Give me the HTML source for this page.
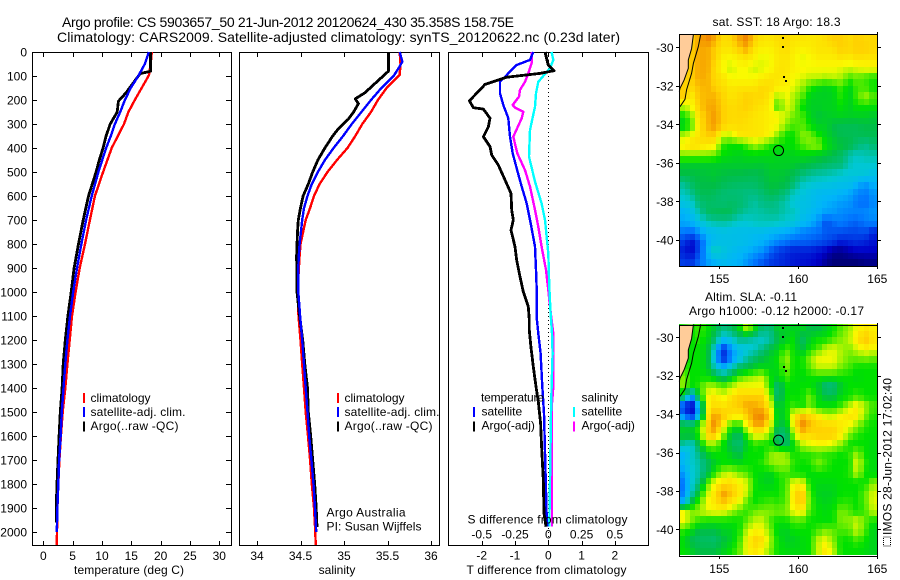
<!DOCTYPE html>
<html>
<head>
<meta charset="utf-8">
<title>Argo profile</title>
<style>
html,body{margin:0;padding:0;background:#fff;}
svg{display:block;}
text{font-family:"Liberation Sans",sans-serif;font-size:12px;fill:#000;}
.title{font-size:14px;}
</style>
</head>
<body>
<svg id="fig" xmlns="http://www.w3.org/2000/svg" width="900" height="580" viewBox="0 0 900 580">
<text class="title" x="62" y="27" textLength="452" lengthAdjust="spacing">Argo profile: CS 5903657_50 21-Jun-2012 20120624_430 35.358S 158.75E</text>
<text class="title" x="57" y="42" textLength="563" lengthAdjust="spacing">Climatology: CARS2009. Satellite-adjusted climatology: synTS_20120622.nc (0.23d later)</text>
<g id="plots"></g>
<g id="maps"></g>
<g id="overlay">
<text x="129" y="574" text-anchor="middle" textLength="110" lengthAdjust="spacing">temperature (deg C)</text>
<text x="337" y="574" text-anchor="middle">salinity</text>
<text x="546.5" y="574" text-anchor="middle" textLength="160" lengthAdjust="spacing">T difference from climatology</text>
<text x="547.5" y="523.5" text-anchor="middle" textLength="160" lengthAdjust="spacing">S difference from climatology</text>

<rect x="83" y="393" width="2" height="10" fill="#f00"/>
<text x="90.5" y="402">climatology</text>
<rect x="83" y="407" width="2" height="10" fill="#00f"/>
<text x="90.5" y="416" textLength="95" lengthAdjust="spacing">satellite-adj. clim.</text>
<rect x="83" y="421.5" width="2" height="10" fill="#000"/>
<text x="90.5" y="430" textLength="88" lengthAdjust="spacing">Argo(..raw -QC)</text>

<rect x="337" y="393" width="2" height="10" fill="#f00"/>
<text x="344.5" y="402">climatology</text>
<rect x="337" y="407" width="2" height="10" fill="#00f"/>
<text x="344.5" y="416" textLength="95" lengthAdjust="spacing">satellite-adj. clim.</text>
<rect x="337" y="421.5" width="2" height="10" fill="#000"/>
<text x="344.5" y="430" textLength="88" lengthAdjust="spacing">Argo(..raw -QC)</text>

<text x="326.5" y="516.5" textLength="79" lengthAdjust="spacing">Argo Australia</text>
<text x="326.5" y="530.5" textLength="95" lengthAdjust="spacing">PI: Susan Wijffels</text>

<text x="481" y="401.5" textLength="63" lengthAdjust="spacing">temperature</text>
<rect x="473" y="407" width="2" height="10" fill="#00f"/>
<text x="481.5" y="415.5">satellite</text>
<rect x="473" y="421.5" width="2" height="10" fill="#000"/>
<text x="481.5" y="429.5">Argo(-adj)</text>
<text x="581.5" y="401.5">salinity</text>
<rect x="573" y="407" width="2" height="10" fill="#0ff"/>
<text x="581.5" y="415.5">satellite</text>
<rect x="573" y="421.5" width="2" height="10" fill="#f0f"/>
<text x="581.5" y="429.5">Argo(-adj)</text>

<text x="776.5" y="26" text-anchor="middle" textLength="128" lengthAdjust="spacing">sat. SST: 18 Argo: 18.3</text>
<text x="705" y="301" textLength="92" lengthAdjust="spacing">Altim. SLA: -0.11</text>
<text x="689" y="315" textLength="175" lengthAdjust="spacing">Argo h1000: -0.12 h2000: -0.17</text>
<rect x="883.5" y="537" width="7" height="9" fill="none" stroke="#000" stroke-width="1" stroke-dasharray="1 1" shape-rendering="crispEdges"/>
<text transform="translate(891.5,535) rotate(-90)" textLength="157" lengthAdjust="spacing">IMOS 28-Jun-2012 17:02:40</text>
</g>
</svg>
<script>
// ---- profile data ----
const tempClimDepth = [0,50,97,200,250,300,400,500,600,700,800,900,1000,1100,1200,1300,1400,1500,1600,1700,1800,1900,2000,2054];
const tempClim = [18.5,18.3,18.0,15.6,14.5,13.75,11.65,10.2,8.8,7.95,7.1,6.2,5.5,4.9,4.5,4.1,3.75,3.3,3.0,2.75,2.55,2.4,2.33,2.3];
const tempSatDepth = [0,50,100,150,200,250,300,350,400,500,600,700,800,900,1000,1100,1200,1300,1400,1500,1600,1700,1800,1900,2000];
const tempSat = [18.0,17.3,16.2,14.9,13.9,13.1,12.2,11.5,10.7,9.4,8.25,7.3,6.5,5.75,5.1,4.55,4.1,3.75,3.45,3.15,2.95,2.7,2.55,2.4,2.3];
const tempArgoDepth = [0,80,90,130,170,205,250,300,350,400,450,500,600,700,800,900,1000,1100,1200,1300,1400,1500,1600,1700,1800,1900,1960];
const tempArgo = [18.25,18.3,16.5,15.3,14.1,12.8,12.6,11.4,10.7,10.2,9.55,9.0,7.7,6.8,6.0,5.25,4.75,4.2,3.75,3.4,3.2,2.9,2.7,2.5,2.33,2.2,2.2];

const salClimDepth = [0,50,95,150,200,250,300,350,400,450,500,550,600,650,700,750,800,850,1000,1100,1200,1300,1400,1500,1600,1700,1800,1900,2000,2054];
const salClim = [35.64,35.65,35.64,35.49,35.39,35.31,35.21,35.13,35.04,34.92,34.81,34.72,34.655,34.61,34.56,34.53,34.50,34.49,34.465,34.477,34.50,34.52,34.54,34.56,34.586,34.61,34.63,34.655,34.67,34.675];
const salSatDepth = [0,40,60,100,150,200,250,300,350,400,450,500,550,600,650,700,750,800,850,900,1000,1100,1200,1300,1400,1500,1600,1700,1800,1900,2000];
const salSat = [35.64,35.67,35.64,35.57,35.43,35.31,35.2,35.09,34.99,34.88,34.78,34.70,34.63,34.58,34.54,34.52,34.505,34.49,34.48,34.475,34.475,34.495,34.52,34.54,34.56,34.58,34.60,34.625,34.65,34.667,34.68];
const salArgoDepth = [0,80,100,125,170,195,215,250,280,320,350,400,450,500,550,600,650,700,750,850,1000,1100,1200,1300,1400,1500,1600,1700,1800,1900,1980];
const salArgo = [35.51,35.51,35.45,35.375,35.24,35.13,35.165,35.11,35.05,34.935,34.87,34.78,34.70,34.64,34.59,34.53,34.50,34.475,34.465,34.455,34.46,34.49,34.525,34.55,34.58,34.59,34.617,34.64,34.663,34.68,34.69];

const diffTArgoDepth = [0,55,78,89,105,135,158,203,232,238,276,311,353,394,429,471,533,589,658,700,742,811,867,936,999,1061,1117,1158,1221,1311,1394,1457,1547,1644,1783,1922,1978];
const diffTArgo = [-0.1,0,0.17,-0.25,-1.25,-1.9,-2.05,-2.37,-2.25,-1.95,-1.75,-1.8,-1.95,-1.75,-1.7,-1.5,-1.3,-1.12,-1.1,-1.05,-1.12,-1.0,-0.95,-0.85,-0.75,-0.6,-0.57,-0.57,-0.53,-0.45,-0.37,-0.3,-0.23,-0.2,-0.15,-0.13,-0.07];
const diffTSatDepth = [0,33,54,89,124,172,221,276,353,422,485,561,631,714,811,908,978,1103,1172,1256,1394,1506,1714,1922,1978];
const diffTSat = [-0.45,-0.55,-0.95,-1.2,-1.45,-1.45,-1.35,-1.2,-1.15,-1.07,-0.95,-0.8,-0.65,-0.53,-0.4,-0.37,-0.35,-0.35,-0.3,-0.23,-0.18,-0.13,-0.09,-0.05,-0.03];
const diffSArgoDepth = [0,47,89,124,158,186,221,232,249,276,353,422,492,561,658,728,811,908,992,1061,1117,1172,1394,1464,1978];
const diffSArgo = [-0.125,-0.125,-0.15,-0.175,-0.2125,-0.22,-0.2675,-0.25,-0.1875,-0.2,-0.2625,-0.2325,-0.175,-0.1375,-0.1,-0.075,-0.05,-0.0175,0,0.0125,0.025,0.0375,0.0375,0.0275,0.0275];
const diffSSatDepth = [0,33,68,124,172,228,325,436,540,631,700,839,978,1089,1172,1256,1394,1506,1783,1978];
const diffSSat = [0.025,0.0375,0.0125,-0.075,-0.0925,-0.1,-0.1375,-0.145,-0.1,-0.05,-0.025,0,0.0075,0.0175,0.0275,0.0325,0.025,0.02,0.0125,0.0075];

// ---- tick labels ----
const depthTicks = [0,100,200,300,400,500,600,700,800,900,1000,1100,1200,1300,1400,1500,1600,1700,1800,1900,2000];
const tempTicks = [0,5,10,15,20,25,30];
const salTicks = [34,34.5,35,35.5,36];
const diffTTicks = [-2,-1,0,1,2];
const diffSTicks = [-0.5,-0.25,0,0.25,0.5];
const lonTicks = [155,160,165];
const latTicks = [-30,-32,-34,-36,-38,-40];

// ---- map data: colour level per half-degree sample, north to south, west to east ----
const sstLevels = [
[11,11,11.5,12,11.5,10.7,10.8,11.5,12,11,10.5,10.5,10.7,10.8,10.5,10.5,10.4,10.5,10.7,11,11,10.7,11,10.8,10.8],
[11,11,11.5,11.5,11,10.5,10.5,11,11.5,10.5,10.2,10.2,10.5,10.7,10.3,10.2,10.3,10.5,10.5,10.6,11,10.8,11,11,10.8],
[11,11,11.5,11.5,11,10.2,10,10.3,10.5,10.2,9.8,10,10.4,10.5,10.2,9.8,10,10.3,10.3,10.3,10.5,10.3,10.6,10.5,10.5],
[11,11,11.5,11.5,10.8,10,9.6,10,10,9.6,9.8,10,10.5,10.5,10.2,10.1,10,10,10,10,9.8,9.6,9.8,10,10],
[11,11,11.5,11.4,10.8,10.5,10,10,10,10,10.3,10.5,10.5,10.4,10,9.8,9.5,9.5,9.3,9.5,9.3,8.5,8.8,8.5,8.2],
[11,10.8,11.2,11.4,11,10.7,10.4,10.5,10.5,10.5,10.8,10.7,10.3,10.2,9.8,9.2,8.3,7.8,7.6,7.8,8.5,7.6,8.5,8.5,8],
[11,10.2,11.2,11.3,11.4,10.9,10.5,10.7,11,10.8,10.8,10.4,9.2,10,9.3,8.7,7.6,7.5,7.5,7.6,8.3,7.5,8.5,9.3,8.6],
[9.5,10,11,11.5,11.5,11,10.7,10.8,11,10.7,10.5,10.3,8.2,9.8,9.3,8,7.5,7.5,7.6,7.6,8,7.5,8,8,8],
[8,9,10.7,11.3,11.7,11,10.7,10.8,10.7,10.5,10.4,10.2,10.2,9.5,8.8,8.6,7.7,7.2,7.4,7.5,7.6,7.5,7.5,7.5,7.3],
[7.5,8.5,10.5,11.3,11.7,11,10.7,10.7,10.6,10.5,10.4,10.2,10,9,8.5,8.7,8,7.5,7.5,7,6.8,6.8,6.8,7,7],
[9.5,10,10.5,11,11,9.6,9.5,10.4,10.5,10.5,10.4,10,9,8,8,9,9,8.2,7.6,7.2,6.8,6.8,6.7,6.8,6.8],
[10.3,10.8,10.7,10.4,10.2,8.3,8,8,8.5,9.3,8.8,8.2,8,8,8,8.5,9,9.2,8,7.5,7.2,7,6.3,5.8,6.3],
[9,9,9,9,8.8,8,7.8,7.6,7.8,7.8,7.8,7.8,7.6,7.6,7.6,7.8,7.7,7.5,7.3,7,6.5,5.6,5.2,5.5,5.5],
[7.4,7.4,7.4,7.4,7.4,7.4,7.4,7.4,7.4,7.4,7.3,7.5,7.5,7.5,7.4,7.2,7,6.8,6.5,6.3,6.2,5.3,4.9,5,5],
[7,7,7.1,7.2,7.3,7.1,7,7,6.9,6.8,7,7.3,7.3,7.2,6.8,6.3,5.8,5.6,5.5,5.3,5,4.8,4.9,4.8,4.5],
[5.8,6.5,7,7,7.1,6.8,6.6,6.5,6.5,6.5,6.8,7.2,7.2,7,6.3,5.3,5,4.8,4.7,4.6,4.5,4.5,4,3.5,4],
[5.2,5.8,6.7,6.8,6.6,6.3,6.2,6.2,6,6,6.3,6.8,6.6,6,5.2,4.8,4.5,4.3,4.2,4.2,4,3.8,3.3,3,3.5],
[4.7,5,6.2,6.5,6.4,6.3,6.5,6.4,6,5.6,6,6.1,5.9,5.4,4.8,4.6,4.5,4.2,4,3.8,3.6,3.5,3,2.8,3.3],
[4,4.4,5.4,6.5,6.7,6.8,6.7,6,5.6,5.5,5.6,5.8,5.8,5.3,5.3,4.6,4.3,4,3.6,3.6,3.3,3.2,3.2,3.3,3.5],
[3.8,4,4.5,5.2,5.5,5.6,5.4,5,4.9,5.2,5.3,5.3,5.2,4.9,4.8,4.3,4,3.5,2.3,2.8,3.1,2.8,2.6,3,3.2],
[3,2.7,3.5,4.2,4.3,4.5,4.4,4.4,4.4,4.3,4.3,4.1,4,3.8,3.6,3.2,3,2.9,2.5,2.4,2.3,2.2,2.2,2.3,1.6],
[2,1.2,2.2,3.8,4.4,4.5,4.6,4.5,4.4,4.2,4,3.7,3.3,3,2.7,2.7,2.6,2.4,2.2,2,1.5,1.7,1.8,1.6,1.3],
[1.5,1,2.2,4,5.4,4.8,4.4,4.2,4,3.7,3.4,2.6,2,1.7,1.5,1.5,1.5,1.3,1,0.4,0.3,0.7,1,1,1],
[2,1.8,2.7,3.6,4,4.3,4.1,4,3.5,3,2.5,2,1.8,1.6,1.4,1.3,1.2,1,0.4,0,0,0,0,0.2,0.2]
];
const slaLevels = [
[8,8,8.5,8,7.2,6,6.5,7.5,9.5,8,6.2,6.2,7.5,7.5,7.5,7.6,7,7,7.5,8,8.7,9.2,10,10.5,10.2],
[8,8,8.3,7.8,6.5,4.5,4.8,6,6,5.5,5,5.5,7,7.5,8,6.5,7.5,8,8,8.5,9,9.5,10.5,11.3,10.5],
[8,8,8,7.5,4.8,1.8,3.5,4.5,4.7,5,6,7,7.5,8.5,8,7,8,8.5,9.5,9.8,9.3,9,9.7,10.3,10],
[8,8,8,7.5,4.3,1.5,3,4.2,5.5,6.3,7,7.5,8,9.3,8,8,9,9.9,10,10,9.3,8.8,8.8,9,8.8],
[8.5,8,8,7.5,5.3,4,5,6.5,7,7.5,7.8,7.6,7.8,9,8,8,8.7,9.5,9.5,9.5,8.8,8.5,8,8,8],
[9,8,8,8,7.5,6.5,7.4,8.5,9,9.3,9.6,8,7.6,8.5,8,7.8,8,8,8,8,8,8,7.8,8,8],
[9,7.8,8.3,9.3,9.3,8.8,9.3,10,10,10,10,8.3,6,8,7.8,8,8,7.5,6,6,7.5,8,8,8,8],
[7,3,7.5,10,10.5,9.8,10.5,11,11,11,11,9.3,6,8,8,8,9,7.8,7,7,7.8,8,8.5,8,8],
[2,0.5,4,10,10.8,10.5,10.8,11,11.5,11.5,11.2,10.2,7,8,8.5,8,9,8,8,8,8.5,9.5,10.3,9.3,8.5],
[3,1,4.2,10.2,11.7,11.2,10.7,10.4,11,11.8,12,11,7.3,7.8,10.3,11.2,10.8,10.3,9.5,9.5,10.2,10.5,10.5,9,8.2],
[7.3,7,8.5,10.8,12,10.5,8.5,8,10.2,11.5,11.5,10,7,7.2,10.4,12,11.3,10.9,10.8,10.8,10.3,10,9.2,8.3,8],
[7.5,7.5,8.3,11,11.3,9.3,7.3,6.5,8.5,10,10,9,6,6.3,9.3,11,10.7,11,11,11,10.3,9,8.3,8,8],
[5.5,4.8,7,9,9,8,6.8,6.2,7.5,8.3,8,8,7,6.5,7.8,9.3,9.8,10,10,9.6,9,8,8,8,7.8],
[4,5,6,7.5,8,8,7.5,6.8,8,8,8,9,9.3,9,8,8.3,8.3,8.5,8.3,8.3,8,8.3,9.2,8,7.8],
[4.2,5,5.5,6.5,7.5,8,8,7.8,8,8,8.3,9,9.2,9.3,8.3,8,8.2,9,8.5,8,8,8,10,8.3,7.8],
[3.5,4.8,5.5,6.8,8.3,9.3,9.6,9,8.6,8,7.8,7.6,8.3,8.5,8,8,7.8,8,8,8,8,8.2,9.5,8,7.8],
[3,4.8,6,8.5,10,10.5,10.7,10.2,9.7,8.2,7.6,7.5,8,8.5,10,10,8,7.8,7.8,7.8,8,8,8,8,9],
[3,5,7.3,9.5,10.5,11.7,11.2,10.6,9.6,8,8,8,8,8.6,10.5,11.3,8.5,7.6,7.5,7.6,8,8,8,8.7,9.7],
[4,7,8.5,10,10.5,11.2,10.6,10,8.7,8,8.3,8.5,8.3,8.6,10.5,11.3,8.7,7.8,7.6,7.8,8.3,8.3,8,8.7,9.8],
[10,9,9.3,9.8,10,10,9.3,8.7,8.3,8.8,9,9,8.8,9,10,10.3,8.5,8,7.8,8,9,8.6,8,8.5,9.5],
[10,9,8.3,8,8,8,8,8,8.7,9.5,9.6,8.5,8,8,8.5,8.5,8,8,7.9,8,9,9,9.7,8.7,8],
[8.3,7.8,7,7,7,7.5,7.6,8,9.5,10.2,10,9,7.7,7.5,8,8,8,8.5,9,8.7,8.5,8.6,9.6,8.5,7.6],
[7.8,6.8,6.5,6.5,6.3,7,7.5,8.3,10,11,10.7,9.3,8,7.5,7.5,7.8,8,9.5,10,9,8,8,8.5,8,7.6],
[8,7.5,7,7,7,7.5,8,8.6,10,10.5,10,9,8,7.8,7.8,7.8,8,9.5,10.5,9.5,8,8,8,7.8,7.6]
];
const coastLon = [153.36,153.25,153.04,153.04,152.77,152.51,152.47];
const coastLat = [-29.33,-30.06,-30.66,-31.09,-31.7,-32.13,-32.3];
const shelfLon = [153.82,153.67,153.36,153.25,152.93,152.83,152.51];
const shelfLat = [-29.33,-29.97,-30.83,-31.35,-32.2,-32.7,-33.08];
const islandLon = [159.0,159.0,159.07,159.23];
const islandLat = [-29.5,-30.0,-31.55,-31.75];
const argoLon = [158.75];
const argoLat = [-35.358];

// ---- axes ----
const SVGNS = 'http://www.w3.org/2000/svg';
const plots = document.getElementById('plots');
const maps = document.getElementById('maps');
function mk(parent, tag, name, props, txt) {
  const el = document.createElementNS(SVGNS, tag);
  
  
  for (const k in props) el.setAttribute(k, props[k]);
  if (txt !== undefined) el.textContent = txt;
  parent.appendChild(el);
  return el;
}
const depthY = d => 52 + d * 0.24;
const tempX = t => 43.3 + t * 5.867;
const salX = s => 257 + (s - 34) * 87;
const diffTX = t => 548.3 + t * 33.3;
const diffSX = s => 548.3 + s * 4 * 33.3;

function frame(name, x0, x1) {
  mk(plots, 'rect', name + '-axes-box', {x: x0 + .5, y: 52.5, width: x1 - x0, height: 493, fill: 'none', stroke: '#000', 'stroke-width': 1, 'shape-rendering': 'crispEdges'});
}
function vTick(name, x) {
  const px = Math.round(x) + .5;
  mk(plots, 'line', name + '-top-tick', {x1: px, x2: px, y1: 52, y2: 57, stroke: '#000', 'shape-rendering': 'crispEdges'});
  mk(plots, 'line', name + '-bottom-tick', {x1: px, x2: px, y1: 541, y2: 546, stroke: '#000', 'shape-rendering': 'crispEdges'});
}
function profile(name, fx, depths, vals, color, w) {
  const pts = depths.map((d, i) => fx(vals[i]).toFixed(1) + ',' + depthY(d).toFixed(1)).join(' ');
  mk(plots, 'polyline', name, {points: pts, fill: 'none', stroke: color, 'stroke-width': w || 2.4, 'shape-rendering': 'crispEdges', 'stroke-linejoin': 'round'});
}

// panel 1
frame('temperature', 32, 231);
tempTicks.forEach(t => {
  vTick('temperature-x', tempX(t));
  mk(plots, 'text', 'temperature-x-tick-label', {x: tempX(t), y: 560, 'text-anchor': 'middle'}, String(t));
});
depthTicks.forEach(d => {
  const y = Math.round(depthY(d)) + .5;
  mk(plots, 'line', 'depth-left-tick', {x1: 32, x2: 37, y1: y, y2: y, stroke: '#000', 'shape-rendering': 'crispEdges'});
  mk(plots, 'line', 'depth-right-tick', {x1: 226, x2: 231, y1: y, y2: y, stroke: '#000', 'shape-rendering': 'crispEdges'});
  mk(plots, 'text', 'depth-tick-label', {x: 27, y: depthY(d) + 4.5, 'text-anchor': 'end'}, String(d));
});
profile('temperature-climatology-line', tempX, tempClimDepth, tempClim, '#f00');
profile('temperature-argo-line', tempX, tempArgoDepth, tempArgo, '#000', 2.8);
profile('temperature-satellite-line', tempX, tempSatDepth, tempSat, '#00f');

// panel 2
frame('salinity', 239, 439);
salTicks.forEach(s => {
  vTick('salinity-x', salX(s));
  mk(plots, 'text', 'salinity-x-tick-label', {x: salX(s), y: 560, 'text-anchor': 'middle'}, String(s));
});
profile('salinity-climatology-line', salX, salClimDepth, salClim, '#f00');
profile('salinity-argo-line', salX, salArgoDepth, salArgo, '#000', 2.8);
profile('salinity-satellite-line', salX, salSatDepth, salSat, '#00f');

// panel 3
frame('difference', 448, 648);
diffTTicks.forEach(t => {
  vTick('t-difference-x', diffTX(t));
  mk(plots, 'text', 't-difference-tick-label', {x: diffTX(t), y: 559.5, 'text-anchor': 'middle'}, String(t));
});
diffSTicks.forEach(s => {
  mk(plots, 'text', 's-difference-tick-label', {x: diffSX(s), y: 538.5, 'text-anchor': 'middle'}, String(s));
});
mk(plots, 'line', 'zero-difference-line', {x1: 548.5, x2: 548.5, y1: 52, y2: 541, stroke: '#000', 'stroke-width': 1, 'stroke-dasharray': '1 3', 'shape-rendering': 'crispEdges'});
profile('s-difference-argo-line', diffSX, diffSArgoDepth, diffSArgo, '#f0f');
profile('s-difference-satellite-line', diffSX, diffSSatDepth, diffSSat, '#0ff');
profile('t-difference-satellite-line', diffTX, diffTSatDepth, diffTSat, '#00f');
profile('t-difference-argo-line', diffTX, diffTArgoDepth, diffTArgo, '#000', 2.8);

// ---- maps ----
const paletteStops = [[0,0,120],[0,0,200],[0,60,230],[0,120,255],[0,180,250],[0,200,210],[0,190,130],[0,190,70],[0,225,0],[130,240,0],[250,250,0],[255,208,0],[240,130,0]];
function levelColor(v) {
  const c = Math.max(0, Math.min(12, v));
  const i = Math.min(11, Math.floor(c));
  const f = c - i;
  const a = paletteStops[i], b = paletteStops[i + 1];
  return 'rgb(' + a.map((q, k) => Math.round(q + (b[k] - q) * f)).join(',') + ')';
}
const lonX = lon => 719.3 + (lon - 155) * 15.8;
const LON_W = 152.47, LAT_N = -29.33, SAMPLE = 0.5, PIXEL = 1 / 3;

// value at a lon/lat, read from the half-degree samples
function sampleAt(levels, lon, lat) {
  const cf = Math.max(0, Math.min(levels[0].length - 1, (lon - LON_W) / SAMPLE - .5));
  const rf = Math.max(0, Math.min(levels.length - 1, (LAT_N - lat) / SAMPLE - .5));
  const c0 = Math.floor(cf), r0 = Math.floor(rf);
  const c1 = Math.min(levels[0].length - 1, c0 + 1), r1 = Math.min(levels.length - 1, r0 + 1);
  const fx = cf - c0, fy = rf - r0;
  const top = levels[r0][c0] * (1 - fx) + levels[r0][c1] * fx;
  const bot = levels[r1][c0] * (1 - fx) + levels[r1][c1] * fx;
  return top * (1 - fy) + bot * fy;
}

function drawMap(name, levels, top, bottom, latY) {
  const left = 679, right = 878;
  const g = mk(maps, 'g', name + '-map', {});
  const nCols = Math.round(levels[0].length * SAMPLE / PIXEL);
  const nRows = Math.round(levels.length * SAMPLE / PIXEL);
  for (let r = 0; r < nRows; r++) {
    for (let c = 0; c < nCols; c++) {
      const lonA = LON_W + c * PIXEL, latA = LAT_N - r * PIXEL;
      const x0 = Math.round(lonX(lonA));
      const x1 = Math.min(right, Math.round(lonX(lonA + PIXEL)));
      const y0 = Math.round(latY(latA));
      const y1 = Math.min(bottom, Math.round(latY(latA - PIXEL)));
      if (x1 <= x0 || y1 <= y0) continue;
      const v = sampleAt(levels, lonA + PIXEL / 2, latA - PIXEL / 2);
      mk(g, 'rect', name + '-cell', {x: x0, y: y0, width: x1 - x0, height: y1 - y0, fill: levelColor(v), 'shape-rendering': 'crispEdges'});
    }
  }
  const coastPts = coastLon.map((lo, i) => lonX(lo).toFixed(1) + ',' + latY(coastLat[i]).toFixed(1));
  const landPts = [left + ',' + top].concat(coastPts, [left + ',' + latY(-32.3).toFixed(1)]).join(' ');
  mk(g, 'polygon', name + '-land', {points: landPts, fill: '#ffcc99', stroke: 'none'});
  mk(g, 'polyline', name + '-coastline', {points: coastPts.join(' '), fill: 'none', stroke: '#000', 'stroke-width': 1});
  const shelfPts = shelfLon.map((lo, i) => lonX(lo).toFixed(1) + ',' + latY(shelfLat[i]).toFixed(1)).join(' ');
  mk(g, 'polyline', name + '-shelf-contour', {points: shelfPts, fill: 'none', stroke: '#000', 'stroke-width': 1});
  islandLon.forEach((lo, i) => {
    mk(g, 'rect', name + '-island', {x: Math.round(lonX(lo)) - 1, y: Math.round(latY(islandLat[i])) - 1, width: 2, height: 2, fill: '#000', 'shape-rendering': 'crispEdges'});
  });
  argoLon.forEach((lo, i) => {
    mk(g, 'circle', name + '-argo-position', {cx: lonX(lo), cy: latY(argoLat[i]), r: 5, fill: 'none', stroke: '#000', 'stroke-width': 1});
  });
  mk(g, 'rect', name + '-axes-box', {x: left + .5, y: top + .5, width: right - left - 1, height: bottom - top - 1, fill: 'none', stroke: '#000', 'stroke-width': 1, 'shape-rendering': 'crispEdges'});
  lonTicks.forEach(lo => {
    const x = Math.round(lonX(lo)) + .5;
    mk(g, 'line', name + '-lon-top-tick', {x1: x, x2: x, y1: top - 2, y2: top, stroke: '#000', 'shape-rendering': 'crispEdges'});
    mk(g, 'line', name + '-lon-bottom-tick', {x1: x, x2: x, y1: bottom, y2: bottom + 2, stroke: '#000', 'shape-rendering': 'crispEdges'});
    mk(g, 'text', name + '-lon-tick-label', {x: lonX(lo), y: bottom + 16, 'text-anchor': 'middle'}, String(lo));
  });
  latTicks.forEach(la => {
    const y = Math.round(latY(la)) + .5;
    mk(g, 'line', name + '-lat-left-tick', {x1: left - 3, x2: left, y1: y, y2: y, stroke: '#000', 'shape-rendering': 'crispEdges'});
    mk(g, 'line', name + '-lat-right-tick', {x1: right, x2: right + 3, y1: y, y2: y, stroke: '#000', 'shape-rendering': 'crispEdges'});
    mk(g, 'text', name + '-lat-tick-label', {x: 673.5, y: latY(la) + 4.5, 'text-anchor': 'end'}, String(la));
  });
}
drawMap('sst', sstLevels, 34, 267, la => 47.3 + (-30 - la) * 19.27);
drawMap('sla', slaLevels, 325, 557, la => 337.3 + (-30 - la) * 19.2);
</script>
</body>
</html>
